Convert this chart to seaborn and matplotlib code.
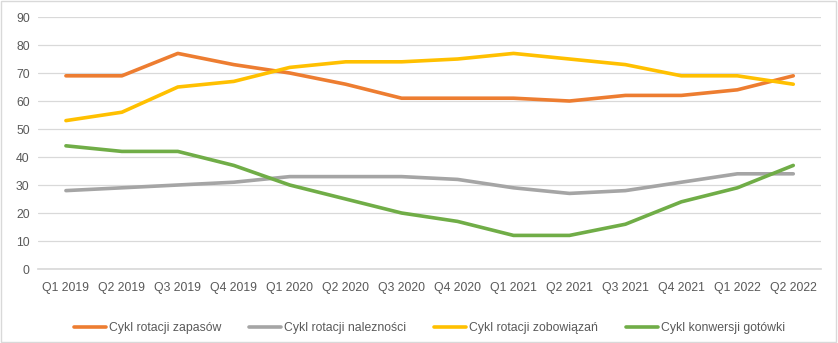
import matplotlib
matplotlib.use("Agg")
import matplotlib.pyplot as plt
import seaborn as sns
import pandas as pd

quarters = ["Q1 2019", "Q2 2019", "Q3 2019", "Q4 2019", "Q1 2020", "Q2 2020", "Q3 2020",
            "Q4 2020", "Q1 2021", "Q2 2021", "Q3 2021", "Q4 2021", "Q1 2022", "Q2 2022"]
zapasy = [69, 69, 77, 73, 70, 66, 61, 61, 61, 60, 62, 62, 64, 69]
naleznosci = [28, 29, 30, 31, 33, 33, 33, 32, 29, 27, 28, 31, 34, 34]
zobowiazania = [53, 56, 65, 67, 72, 74, 74, 75, 77, 75, 73, 69, 69, 66]
konwersja = [44, 42, 42, 37, 30, 25, 20, 17, 12, 12, 16, 24, 29, 37]

series_names = ["Cykl rotacji zapasów", "Cykl rotacji nalezności",
                "Cykl rotacji zobowiązań", "Cykl konwersji gotówki"]
series_values = [zapasy, naleznosci, zobowiazania, konwersja]
colors = ["#ED7D31", "#A5A5A5", "#FFC000", "#70AD47"]

rows = []
for name, vals in zip(series_names, series_values):
    for i, (q, v) in enumerate(zip(quarters, vals)):
        rows.append({"idx": i, "kwartał": q, "seria": name, "dni": v})
df = pd.DataFrame(rows)

sns.set_theme(style="white")
plt.rcParams["font.family"] = ["Liberation Sans", "DejaVu Sans"]

fig = plt.figure(figsize=(8.38, 3.43), dpi=100)
ax = fig.add_axes([0.0453, 0.2157, 0.9347, 0.7347])

sns.lineplot(data=df, x="idx", y="dni", hue="seria", hue_order=series_names,
             palette=colors, linewidth=2.6, ax=ax, legend=True)

ax.set_xlim(-0.5, len(quarters) - 0.5)
ax.set_ylim(0, 90)
ax.set_yticks(range(0, 91, 10))
ax.set_xticks(range(len(quarters)))
ax.set_xticklabels(quarters)
ax.set_xlabel("")
ax.set_ylabel("")
ax.grid(axis="y", color="#D9D9D9", linewidth=0.9)
ax.set_axisbelow(True)
for s in ax.spines.values():
    s.set_visible(False)
ax.spines["bottom"].set_visible(True)
ax.spines["bottom"].set_color("#D9D9D9")
ax.tick_params(axis="both", length=0, colors="#595959", labelsize=8.8, pad=6)
ax.tick_params(axis="x", pad=9)

handles, labels = ax.get_legend_handles_labels()
ax.legend(handles, labels, loc="center", bbox_to_anchor=(0.5, -0.235), ncol=4,
          frameon=False, fontsize=8.8, labelcolor="#595959", handlelength=2.6,
          columnspacing=2.3, handletextpad=0.25)

fig.patches.append(plt.Rectangle((0.001, 0.002), 0.997, 0.995, transform=fig.transFigure,
                                 fill=False, edgecolor="#D9D9D9", linewidth=1))

fig.savefig("out.png", dpi=100)
